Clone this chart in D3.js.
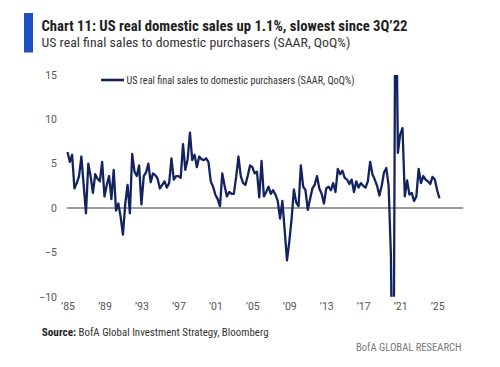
<!DOCTYPE html>
<html><head><meta charset="utf-8">
<script src="https://cdn.jsdelivr.net/npm/d3@7"></script>
<style>body{margin:0;background:#fff;} svg{display:block;}</style>
</head><body>
<svg id="c" width="500" height="367"></svg>
<script>
// ---- data (quarterly, SAAR QoQ %, 1Q1985 .. 2Q2025) ----
const startYear = 1985;
const salesGrowth = [
  6.3, 5.2, 6.0, 2.2,   // 1985
  2.8, 3.6, 5.8, 2.6,   // 1986
  -0.6, 5.0, 3.6, 1.7,  // 1987
  3.8, 3.3, 3.0, 5.2,   // 1988
  1.3, 2.6, 3.6, 1.0,   // 1989
  4.3, -0.3, 0.5, -1.0, // 1990
  -3.0, 0.5, 2.6, -0.6, // 1991
  6.1, 4.1, 3.6, 4.8,   // 1992
  0.4, 3.6, 4.0, 5.0,   // 1993
  2.9, 3.9, 3.7, 3.3,   // 1994
  2.2, 2.6, 3.0, 2.3,   // 1995
  2.8, 5.6, 3.2, 3.6,   // 1996
  3.6, 3.4, 7.2, 4.3,   // 1997
  5.5, 8.5, 5.4, 6.0,   // 1998
  4.6, 5.8, 5.5, 5.4,   // 1999
  5.6, 5.2, 3.0, 2.4,   // 2000
  1.5, 1.0, 0.2, 3.9,   // 2001
  2.5, 1.3, 1.8, 1.6,   // 2002
  1.6, 3.5, 5.8, 3.6,   // 2003
  2.8, 2.6, 3.6, 4.8,   // 2004
  4.6, 3.9, 4.1, 1.2,   // 2005
  5.3, 1.3, 1.8, 2.4,   // 2006
  1.6, 2.0, 1.5, 0.8,   // 2007
  -1.2, 0.8, -2.5, -5.9,// 2008
  -3.8, -1.2, 2.1, 0.6, // 2009
  0.2, 4.8, 2.4, 2.0,   // 2010
  -0.2, 1.0, 2.2, 2.6,  // 2011
  3.6, 2.2, 1.6, 0.5,   // 2012
  2.2, 2.4, 2.0, 2.8,   // 2013
  1.8, 4.4, 3.8, 4.2,   // 2014
  3.4, 3.2, 2.7, 3.2,   // 2015
  1.8, 3.0, 2.3, 2.8,   // 2016
  2.5, 2.3, 3.0, 5.2,   // 2017
  3.8, 3.2, 2.5, 1.4,   // 2018
  2.5, 4.0, 4.5, 2.5,   // 2019
  -5.5, -29.0, 31.0, 6.2, // 2020
  8.3, 9.0, 1.3, 3.1,   // 2021
  1.5, 1.7, 0.8, 1.3,   // 2022
  4.4, 2.8, 3.6, 3.2,   // 2023
  3.0, 2.7, 3.5, 3.2,   // 2024
  2.0, 1.1              // 2025
];
const yTicks = [-10, -5, 0, 5, 10, 15];
const xTickYears = [1985, 1989, 1993, 1997, 2001, 2005, 2009, 2013, 2017, 2021, 2025];
const xTickLabels = ["’85","’89","’93","’97","’01","’05","’09","’13","’17","’21","’25"];
const titleText = "Chart 11: US real domestic sales up 1.1%, slowest since 3Q’22";
const subtitleText = "US real final sales to domestic purchasers (SAAR, QoQ%)";
const legendText = "US real final sales to domestic purchasers (SAAR, QoQ%)";
const sourceLabel = "Source:";
const sourceText = "BofA Global Investment Strategy, Bloomberg";
const brandText = "BofA GLOBAL RESEARCH";

// ---- drawing ----
const svg = d3.select("#c");
const font = "'Liberation Sans Narrow','Roboto Condensed','Liberation Sans',Roboto,sans-serif";
const lineColor = "#13235f";

const data = salesGrowth.map((v, i) => ({ t: startYear + i / 4, v }));

const x = d3.scaleLinear().domain([1985, 2027.83]).range([67.5, 463.3]);
const y = d3.scaleLinear().domain([-10, 15]).range([296.7, 74.9]);

svg.append("rect").attr("width", 500).attr("height", 367).attr("fill", "#fff");

// title block
svg.append("rect").attr("x", 24).attr("y", 13).attr("width", 9).attr("height", 39.5).attr("fill", "#1f4fc4");
svg.append("text").attr("x", 41.5).attr("y", 30.7)
  .attr("font-family", font).attr("font-weight", "bold").attr("font-size", 14.5)
  .attr("fill", "#1e1e1e").attr("textLength", 366).attr("lengthAdjust", "spacingAndGlyphs")
  .text(titleText);
svg.append("text").attr("x", 41.5).attr("y", 46.6)
  .attr("font-family", font).attr("font-size", 12.5)
  .attr("fill", "#333").attr("textLength", 309).attr("lengthAdjust", "spacingAndGlyphs")
  .text(subtitleText);

// y axis labels
const yAxis = d3.axisLeft(y).tickValues(yTicks).tickSize(0).tickPadding(0).tickFormat(d3.format("d"));
const gy = svg.append("g").attr("transform", "translate(57,0)").call(yAxis);
gy.select(".domain").remove();
gy.selectAll("text").attr("font-family", "Roboto, 'Open Sans', sans-serif").attr("font-size", 10.5).attr("fill", "#555");

// x axis labels
const xAxis = d3.axisBottom(x).tickValues(xTickYears).tickSize(0).tickPadding(0)
  .tickFormat((d, i) => xTickLabels[i]);
const gx = svg.append("g").attr("transform", "translate(0,303)").call(xAxis);
gx.select(".domain").remove();
gx.selectAll("text").attr("font-family", "Roboto, 'Open Sans', sans-serif").attr("font-size", 10.5).attr("fill", "#555");

// zero line
svg.append("line").attr("x1", x.range()[0] - 0.8).attr("x2", x.range()[1])
  .attr("y1", y(0)).attr("y2", y(0)).attr("stroke", "#3a3a3a").attr("stroke-width", 1.2);

// clip for the series
svg.append("clipPath").attr("id", "plotclip").append("rect")
  .attr("x", 0).attr("y", y(15)).attr("width", 500).attr("height", y(-10) - y(15));

const line = d3.line().x(d => x(d.t)).y(d => y(d.v));
svg.append("path").datum(data).attr("clip-path", "url(#plotclip)")
  .attr("d", line).attr("fill", "none").attr("stroke", lineColor)
  .attr("stroke-width", 2.3).attr("stroke-linejoin", "round");

// legend
svg.append("line").attr("x1", 101).attr("x2", 124).attr("y1", 80).attr("y2", 80)
  .attr("stroke", lineColor).attr("stroke-width", 2.6);
svg.append("text").attr("x", 126.5).attr("y", 83.6)
  .attr("font-family", font).attr("font-size", 11)
  .attr("fill", "#333").attr("textLength", 228).attr("lengthAdjust", "spacingAndGlyphs")
  .text(legendText);

// source & brand
svg.append("text").attr("x", 41.7).attr("y", 335.5)
  .attr("font-family", font).attr("font-weight", "bold").attr("font-size", 11.5)
  .attr("fill", "#1e1e1e").attr("textLength", 34.5).attr("lengthAdjust", "spacingAndGlyphs")
  .text(sourceLabel);
svg.append("text").attr("x", 78.5).attr("y", 335.5)
  .attr("font-family", font).attr("font-size", 11.5)
  .attr("fill", "#333").attr("textLength", 190).attr("lengthAdjust", "spacingAndGlyphs")
  .text(sourceText);
svg.append("text").attr("x", 356).attr("y", 350.5)
  .attr("font-family", font).attr("font-size", 11.5)
  .attr("fill", "#7a7a7a").attr("textLength", 105.7).attr("lengthAdjust", "spacingAndGlyphs")
  .text(brandText);
</script>
</body></html>
